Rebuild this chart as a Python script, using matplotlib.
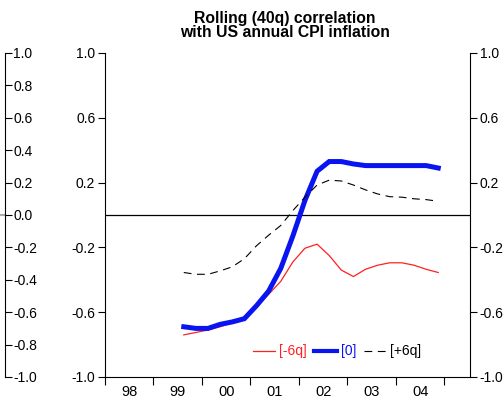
import numpy as np
import matplotlib
matplotlib.use("Agg")
import matplotlib.pyplot as plt

plt.rcParams['font.family'] = ['Liberation Sans', 'DejaVu Sans']

# quarterly dates 1999Q3 .. 2004Q4 (plotted at mid-quarter)
start_year = 1999
start_q = 3
n_q = 22
t = np.array([start_year + (start_q - 1 + i) / 4 + 0.125 for i in range(n_q)])

lag_m6 = [-0.74, -0.725, -0.71, -0.69, -0.665, -0.63, -0.57, -0.49, -0.41, -0.29, -0.205,
          -0.18, -0.25, -0.34, -0.38, -0.335, -0.31, -0.295, -0.295, -0.31, -0.335, -0.355]
lag_0 = [-0.69, -0.70, -0.70, -0.675, -0.66, -0.64, -0.56, -0.47, -0.33, -0.13, 0.09,
         0.27, 0.33, 0.33, 0.315, 0.305, 0.305, 0.305, 0.305, 0.305, 0.305, 0.29]
lag_p6 = [-0.355, -0.366, -0.366, -0.345, -0.32, -0.27, -0.19, -0.125, -0.065, 0.027, 0.11,
          0.185, 0.215, 0.21, 0.185, 0.155, 0.13, 0.113, 0.11, 0.10, 0.095, 0.085]

year_labels = ['98', '99', '00', '01', '02', '03', '04']
yticks_main = [1.0, 0.6, 0.2, -0.2, -0.6, -1.0]
yticks_left = [1.0, 0.8, 0.6, 0.4, 0.2, 0.0, -0.2, -0.4, -0.6, -0.8, -1.0]

W, H = 504, 400
fig = plt.figure(figsize=(W / 100, H / 100), dpi=100)

def fx(px):
    return px / W

def fy(py):
    return 1 - py / H

YFS = 10

# partial axis from a neighbouring panel (cut off on the left)
ax0 = fig.add_axes([fx(-100), fy(377), fx(105), fy(53) - fy(377)])
ax0.set_ylim(-1, 1)
ax0.set_xlim(0, 1)
for s in ['top', 'bottom', 'left']:
    ax0.spines[s].set_visible(False)
ax0.spines['right'].set_linewidth(0.8)
ax0.yaxis.tick_right()
ax0.set_yticks(yticks_left)
ax0.set_yticklabels([f"{v:.1f}" for v in yticks_left])
ax0.tick_params(axis='y', direction='out', length=5, width=0.8, labelsize=YFS, pad=1)
ax0.set_xticks([])
ax0.axhline(0, color='#aaaaaa', lw=1.5)
ax0.patch.set_visible(False)

# main axes
ax = fig.add_axes([fx(105), fy(377), fx(470 - 105), fy(53) - fy(377)])
ax.set_xlim(1998.0, 2005.53)
ax.set_ylim(-1, 1)
ax.spines['top'].set_visible(False)
for s in ['left', 'right', 'bottom']:
    ax.spines[s].set_linewidth(0.8)

ax.axhline(0, color='black', lw=0.9)
ax.plot(t, lag_m6, color='#ff2020', lw=0.9, label='[-6q]')
ax.plot(t, lag_0, color='#0a14f0', lw=3.6, label='[0]', solid_joinstyle='miter')
ax.plot(t, lag_p6, color='black', lw=0.8, dashes=(7, 5), label='[+6q]')

ax.set_yticks(yticks_main)
ax.set_yticklabels([f"{v:.1f}" for v in yticks_main])
ax.tick_params(axis='y', direction='out', length=5, width=0.8, labelsize=YFS, pad=2,
               right=True, labelright=True)

years = np.arange(1998, 2006)
ax.set_xticks(years)
ax.set_xticklabels([''] * len(years))
ax.set_xticks(np.arange(1998, 2005) + 0.5, minor=True)
ax.set_xticklabels(year_labels, minor=True)
ax.tick_params(axis='x', which='major', direction='out', length=6, width=0.8)
ax.tick_params(axis='x', which='minor', length=0, labelsize=10.5, pad=6)

leg = ax.legend(loc='lower left', bbox_to_anchor=(fx(247 - 105) / fx(365), 0.04),
                ncol=3, frameon=False, fontsize=10, handlelength=1.65, handletextpad=0.25,
                columnspacing=0.55, borderaxespad=0)
for txt, c in zip(leg.get_texts(), ['#ff2020', '#0a14f0', 'black']):
    txt.set_color(c)
leg.get_lines()[1].set_linewidth(3.0)

fig.text(fx(285), fy(11), "Rolling (40q) correlation\nwith US annual CPI inflation",
         ha='center', va='top', fontsize=11.3, fontweight='bold', linespacing=0.92)

fig.savefig('out.png', dpi=100)
